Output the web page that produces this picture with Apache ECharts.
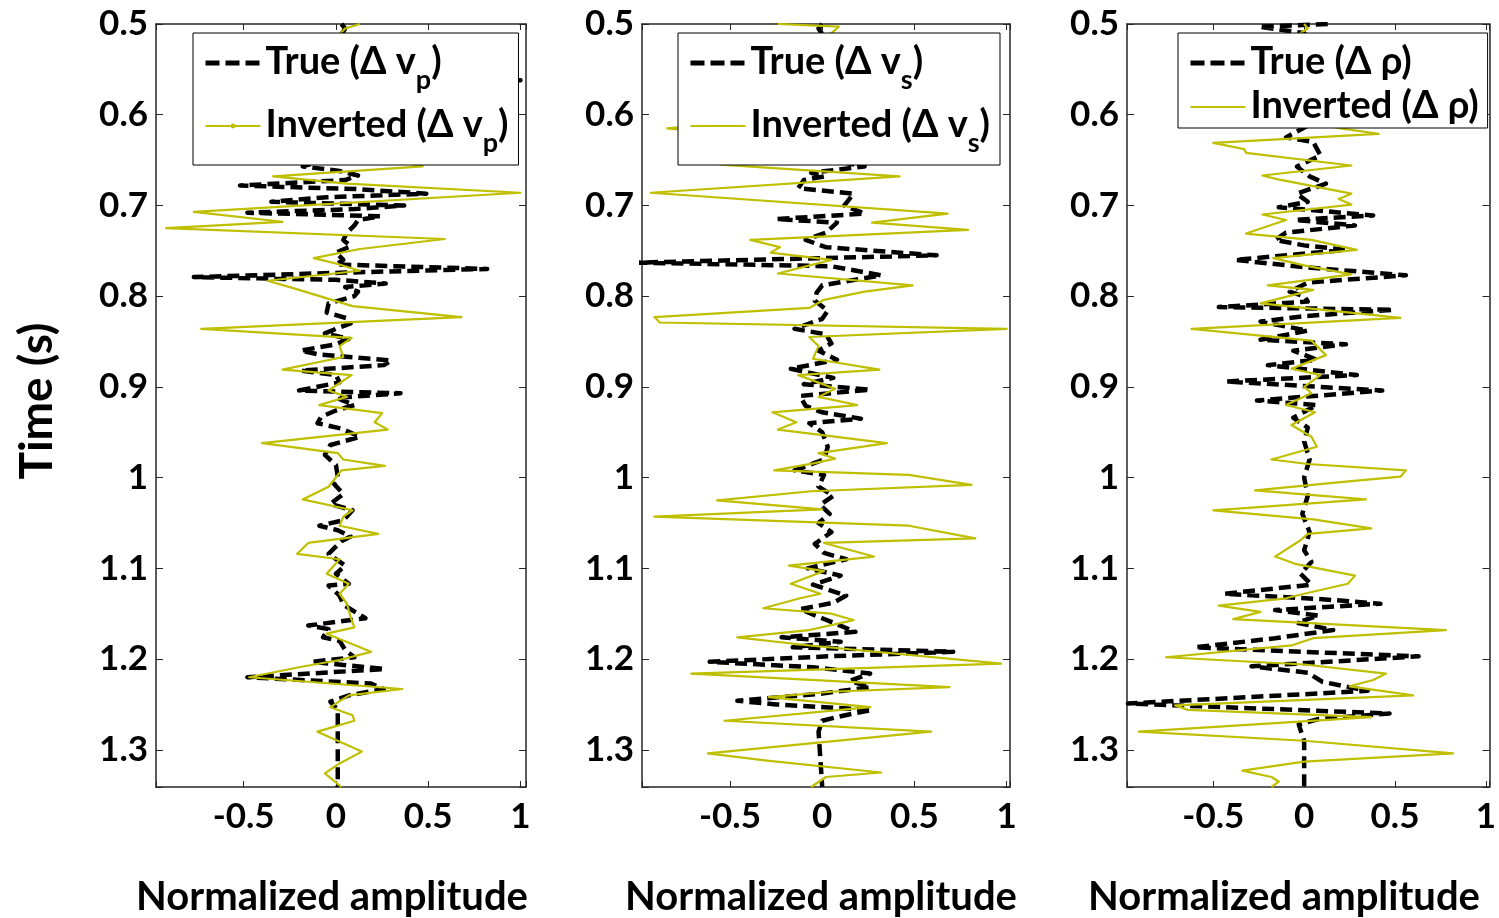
<!DOCTYPE html>
<html><head><meta charset="utf-8">
<script src="https://cdn.jsdelivr.net/npm/echarts@6/dist/echarts.min.js"></script>
<style>html,body{margin:0;padding:0;background:#fff}#c{width:1499px;height:918px}</style>
</head><body><div id="c"></div>
<script>
// ---- data: [amplitude, time] pairs ----
const xTicks = [-0.5, 0, 0.5, 1];
const timeTicks = [0.5, 0.6, 0.7, 0.8, 0.9, 1.0, 1.1, 1.2, 1.3];

const vpTrue = [[0.03,0.500],[0.05,0.505],[0.02,0.515],[-0.03,0.53],[0.04,0.545],[0.02,0.558],[1.0,0.562],[0.03,0.566],[-0.05,0.58],[0.06,0.60],[-0.04,0.62],[0.05,0.64],[-0.1,0.652],[-0.18,0.657],[0.02,0.662],[0.12,0.667],[0.05,0.672],[-0.52,0.678],[0.11,0.682],[0.49,0.687],[-0.05,0.691],[-0.35,0.696],[0.37,0.700],[0.1,0.704],[-0.48,0.708],[0.24,0.712],[0.12,0.716],[0.10,0.722],[0.06,0.73],[0.04,0.738],[0.08,0.745],[0.0,0.752],[0.04,0.760],[0.0,0.765],[0.82,0.770],[0.05,0.774],[-0.77,0.779],[0.0,0.782],[0.27,0.786],[0.05,0.790],[0.12,0.795],[0.1,0.800],[-0.04,0.808],[-0.05,0.818],[0.07,0.825],[0.08,0.830],[0.0,0.836],[-0.06,0.841],[0.07,0.847],[0.0,0.853],[-0.19,0.860],[-0.1,0.864],[0.30,0.871],[0.26,0.876],[-0.19,0.882],[0.0,0.887],[0.02,0.895],[-0.20,0.904],[0.35,0.907],[0.0,0.912],[0.10,0.920],[0.0,0.926],[-0.08,0.933],[-0.1,0.940],[0.03,0.946],[0.13,0.955],[-0.03,0.964],[-0.06,0.975],[0.0,0.986],[0.01,0.999],[-0.01,1.007],[0.04,1.018],[-0.03,1.029],[0.09,1.036],[0.04,1.047],[-0.09,1.053],[0.01,1.058],[0.08,1.065],[0.03,1.070],[-0.04,1.084],[0.05,1.097],[0.0,1.106],[0.07,1.117],[-0.04,1.119],[0.02,1.13],[0.04,1.14],[0.16,1.155],[-0.15,1.163],[-0.04,1.167],[-0.07,1.176],[0.02,1.18],[0.05,1.19],[0.10,1.198],[-0.13,1.203],[0.265,1.211],[-0.48,1.220],[0.19,1.227],[0.26,1.233],[0.07,1.240],[-0.03,1.247],[0.01,1.256],[0.01,1.341]];

const vpInv = [[0.13,0.500],[0.05,0.505],[0.0,0.515],[0.08,0.53],[-0.06,0.55],[0.1,0.57],[-0.1,0.59],[0.15,0.61],[-0.05,0.63],[0.2,0.645],[0.47,0.657],[-0.34,0.668],[0.06,0.676],[1.0,0.686],[-0.77,0.707],[-0.29,0.718],[-0.92,0.725],[0.59,0.737],[0.13,0.748],[-0.12,0.758],[0.0,0.764],[0.13,0.772],[-0.37,0.783],[-0.2,0.793],[0.09,0.811],[0.68,0.823],[-0.73,0.836],[0.085,0.846],[0.02,0.855],[0.04,0.867],[-0.29,0.881],[0.085,0.887],[-0.04,0.904],[0.06,0.911],[-0.09,0.920],[0.25,0.929],[0.21,0.939],[0.28,0.947],[-0.40,0.962],[0.01,0.973],[0.04,0.980],[0.265,0.987],[0.03,0.992],[-0.04,1.010],[-0.18,1.024],[0.09,1.036],[0.04,1.043],[0.02,1.053],[0.23,1.062],[-0.15,1.072],[-0.21,1.084],[0.02,1.09],[-0.05,1.106],[0.07,1.117],[0.02,1.128],[0.06,1.139],[0.08,1.154],[0.1,1.165],[-0.05,1.172],[0.19,1.192],[0.02,1.201],[-0.2,1.209],[-0.47,1.220],[0.36,1.233],[0.07,1.240],[-0.03,1.253],[0.09,1.262],[0.1,1.268],[-0.1,1.280],[0.14,1.302],[0.02,1.315],[-0.06,1.326],[0.03,1.341]];

const vsTrue = [[0.0,0.500],[-0.02,0.505],[0.03,0.52],[-0.02,0.54],[0.04,0.56],[-0.03,0.58],[0.02,0.60],[0.05,0.62],[-0.04,0.64],[0.1,0.652],[0.23,0.657],[-0.06,0.664],[0.01,0.668],[-0.1,0.672],[-0.13,0.681],[0.17,0.687],[0.12,0.700],[0.23,0.709],[-0.25,0.715],[0.08,0.719],[0.02,0.730],[-0.09,0.738],[0.02,0.746],[0.62,0.755],[-1.0,0.763],[0.05,0.767],[0.32,0.777],[0.0,0.788],[-0.03,0.796],[-0.04,0.805],[0.03,0.816],[0.0,0.825],[-0.15,0.836],[0.02,0.842],[0.05,0.852],[-0.02,0.860],[0.08,0.870],[-0.17,0.880],[0.06,0.890],[-0.1,0.897],[0.26,0.903],[-0.12,0.910],[-0.09,0.921],[0.0,0.928],[0.21,0.935],[-0.07,0.940],[0.0,0.950],[0.03,0.966],[0.01,0.980],[-0.15,0.992],[0.01,0.997],[-0.02,1.01],[0.06,1.02],[-0.01,1.03],[0.04,1.04],[-0.02,1.05],[0.05,1.06],[-0.04,1.073],[0.01,1.083],[0.13,1.09],[-0.08,1.1],[0.1,1.108],[-0.05,1.118],[0.13,1.13],[0.06,1.138],[-0.12,1.145],[0.0,1.155],[0.18,1.170],[-0.22,1.176],[0.1,1.181],[-0.16,1.187],[0.71,1.192],[0.03,1.197],[-0.61,1.203],[-0.05,1.209],[0.26,1.216],[0.15,1.224],[0.26,1.231],[0.0,1.238],[-0.46,1.246],[-0.25,1.250],[0.27,1.256],[0.1,1.263],[0.0,1.268],[-0.02,1.28],[0.0,1.341]];

const vsInv = [[-0.24,0.500],[0.09,0.503],[0.05,0.51],[-0.1,0.53],[0.15,0.55],[-0.2,0.57],[0.1,0.59],[-0.3,0.605],[-0.84,0.615],[-0.3,0.625],[0.1,0.64],[-0.55,0.655],[0.42,0.668],[-0.93,0.686],[0.68,0.709],[0.27,0.719],[0.79,0.727],[-0.39,0.738],[-0.23,0.746],[-0.28,0.752],[0.05,0.760],[-0.24,0.775],[0.49,0.788],[0.23,0.795],[0.01,0.804],[-0.07,0.813],[-0.91,0.823],[-0.88,0.829],[1.0,0.836],[-0.07,0.845],[-0.02,0.855],[-0.05,0.869],[0.31,0.881],[-0.13,0.887],[0.07,0.902],[-0.02,0.911],[0.19,0.920],[-0.27,0.928],[-0.14,0.939],[-0.24,0.947],[0.35,0.962],[-0.02,0.973],[0.07,0.979],[-0.04,0.984],[-0.26,0.992],[0.47,0.997],[0.81,1.008],[-0.06,1.015],[-0.57,1.025],[0.0,1.035],[-0.91,1.043],[0.47,1.053],[0.83,1.067],[0.01,1.072],[0.28,1.087],[-0.18,1.097],[0.01,1.103],[-0.17,1.117],[-0.01,1.128],[-0.12,1.133],[-0.32,1.144],[0.05,1.150],[0.17,1.157],[-0.07,1.168],[-0.46,1.176],[-0.07,1.185],[0.97,1.205],[-0.71,1.216],[0.69,1.231],[0.05,1.236],[-0.29,1.242],[0.26,1.253],[-0.53,1.268],[0.59,1.280],[-0.62,1.304],[-0.3,1.312],[0.32,1.325],[0.02,1.330],[-0.06,1.341]];

const rhoTrue = [[0.13,0.500],[-0.25,0.503],[0.0,0.51],[0.05,0.53],[-0.05,0.55],[0.08,0.57],[-0.06,0.59],[0.04,0.61],[-0.1,0.625],[0.05,0.63],[0.09,0.645],[-0.04,0.657],[0.03,0.668],[0.12,0.676],[-0.04,0.687],[0.02,0.696],[-0.14,0.702],[0.38,0.711],[-0.05,0.716],[0.28,0.722],[-0.1,0.73],[-0.16,0.738],[0.0,0.744],[0.23,0.749],[-0.38,0.760],[0.0,0.768],[0.56,0.777],[0.02,0.785],[-0.08,0.795],[0.0,0.80],[0.02,0.806],[-0.47,0.812],[0.49,0.815],[0.0,0.822],[-0.24,0.828],[0.02,0.838],[-0.24,0.848],[0.23,0.853],[-0.06,0.860],[0.07,0.870],[-0.2,0.876],[0.29,0.887],[-0.43,0.894],[0.43,0.904],[-0.26,0.915],[0.07,0.920],[-0.06,0.934],[0.02,0.945],[0.0,0.96],[0.03,0.98],[0.0,1.0],[0.02,1.02],[-0.01,1.04],[0.03,1.06],[0.0,1.08],[0.04,1.093],[-0.02,1.106],[0.04,1.118],[-0.44,1.128],[0.1,1.134],[0.42,1.139],[-0.16,1.146],[0.08,1.152],[-0.04,1.16],[0.16,1.168],[-0.16,1.177],[-0.60,1.187],[0.0,1.192],[0.63,1.197],[-0.29,1.208],[0.02,1.215],[0.1,1.225],[0.35,1.235],[-0.97,1.249],[0.47,1.260],[0.08,1.266],[-0.03,1.272],[0.0,1.29],[0.0,1.341]];

const rhoInv = [[0.0,0.500],[0.02,0.505],[-0.1,0.52],[0.15,0.54],[-0.1,0.56],[0.1,0.58],[-0.15,0.60],[0.2,0.615],[0.41,0.621],[-0.50,0.631],[-0.33,0.638],[-0.32,0.642],[0.26,0.656],[-0.23,0.667],[-0.15,0.671],[0.26,0.687],[0.19,0.693],[0.26,0.699],[-0.23,0.710],[-0.1,0.716],[-0.32,0.731],[0.04,0.738],[0.29,0.749],[-0.17,0.758],[0.0,0.766],[0.26,0.776],[-0.2,0.788],[0.05,0.793],[-0.24,0.808],[0.53,0.824],[-0.62,0.836],[0.04,0.849],[0.12,0.865],[-0.07,0.880],[0.09,0.887],[0.0,0.9],[0.04,0.907],[-0.1,0.920],[0.06,0.928],[-0.07,0.942],[0.04,0.955],[0.07,0.966],[-0.18,0.980],[0.02,0.985],[0.56,0.992],[0.53,0.999],[0.2,1.005],[-0.27,1.014],[0.34,1.024],[-0.50,1.036],[0.05,1.046],[0.37,1.056],[0.02,1.062],[-0.02,1.069],[-0.16,1.087],[-0.05,1.095],[0.28,1.108],[0.24,1.117],[0.0,1.128],[-0.1,1.133],[-0.47,1.141],[-0.24,1.148],[-0.39,1.156],[0.78,1.168],[0.05,1.177],[-0.07,1.185],[-0.76,1.198],[0.0,1.206],[0.45,1.216],[0.38,1.223],[0.25,1.230],[0.60,1.240],[-0.71,1.251],[-0.64,1.256],[0.37,1.264],[-0.91,1.280],[0.0,1.290],[0.82,1.304],[0.0,1.313],[-0.34,1.323],[-0.18,1.330],[-0.14,1.335],[-0.18,1.341]];

const trueNames = ['True (Δ v_p)', 'True (Δ v_s)', 'True (Δ ρ)'];
const invNames = ['Inverted (Δ v_p)', 'Inverted (Δ v_s)', 'Inverted (Δ ρ)'];
const xTitle = 'Normalized amplitude';
const yTitle = 'Time (s)';

// ---- layout ----
const F = 'Lato';
const AX = '#262626';
const YEL = '#bfbf00';
const panels = [
  {left:156, width:370, xmin:-0.975, xmax:1.03, tData:vpTrue, iData:vpInv, dot:true, sub:true, leg:{left:193, top:33}, titleX:332},
  {left:642, width:368, xmin:-0.977, xmax:1.018, tData:vsTrue, iData:vsInv, dot:false, sub:true, leg:{left:678, top:33}, titleX:821},
  {left:1127, width:368, xmin:-0.975, xmax:1.02, tData:rhoTrue, iData:rhoInv, dot:false, sub:false, leg:{left:1178, top:33}, titleX:1284}
];

const near = (arr, v) => arr.some(t => Math.abs(t - v) < 1e-6);
const fmtLegend = name => {
  const m = name.match(/^(.*)_(.)(\))$/);
  if (m) return '{a|' + m[1] + '}{s|' + m[2] + '}{a|' + m[3] + '}';
  return '{a|' + name + '}';
};

const option = {animation:false, backgroundColor:'#fff', grid:[], xAxis:[], yAxis:[], series:[], legend:[], graphic:[]};

panels.forEach((p, i) => {
  option.grid.push({left:p.left, top:24, width:p.width, height:763, containLabel:false});
  const baseX = {gridIndex:i, type:'value', min:p.xmin, max:p.xmax, minInterval:0.5, maxInterval:0.5,
    axisLine:{show:true, onZero:false, lineStyle:{color:AX, width:1.5}},
    axisTick:{show:true, inside:true, length:6, lineStyle:{color:AX, width:1}},
    splitLine:{show:false}};
  option.xAxis.push(Object.assign({}, baseX, {position:'bottom',
    axisLabel:{show:true, margin:12, color:'#000', fontFamily:F, fontWeight:'bold', fontSize:35,
      formatter: v => near(xTicks, v) ? String(Math.round(v*10)/10) : ''}}));
  option.xAxis.push(Object.assign({}, baseX, {position:'top', axisLabel:{show:false}}));
  const baseY = {gridIndex:i, type:'value', inverse:true, min:0.5, max:1.341, interval:0.1,
    axisLine:{show:true, onZero:false, lineStyle:{color:AX, width:1.5}},
    axisTick:{show:true, inside:true, length:7, lineStyle:{color:AX, width:1}},
    splitLine:{show:false}};
  option.yAxis.push(Object.assign({}, baseY, {position:'left',
    axisLabel:{show:true, margin:8, color:'#000', fontFamily:F, fontWeight:'bold', fontSize:35,
      formatter: v => near(timeTicks, v) ? String(Math.round(v*10)/10) : ''}}));
  option.yAxis.push(Object.assign({}, baseY, {position:'right', axisLabel:{show:false}}));

  option.series.push({type:'line', name:trueNames[i], xAxisIndex:2*i, yAxisIndex:2*i, data:p.tData,
    symbol:'none', silent:true, z:2,
    itemStyle:{color:'#000'},
    lineStyle:{color:'#000', width:4.5, type:[12,6], cap:'butt', join:'round'}});
  option.series.push({type:'line', name:invNames[i], xAxisIndex:2*i, yAxisIndex:2*i, data:p.iData,
    symbol: p.dot ? 'circle' : 'none', symbolSize:5, showSymbol:false, silent:true, z:3,
    itemStyle:{color:YEL},
    lineStyle:{color:YEL, width:2.2, join:'round'}});

  const rich = p.sub ? {
      a:{color:'#000', fontFamily:F, fontWeight:'bold', fontSize:38, lineHeight:40, verticalAlign:'top'},
      s:{color:'#000', fontFamily:F, fontWeight:'bold', fontSize:27, lineHeight:26, verticalAlign:'top', padding:[24,0,0,0]}
    } : {
      a:{color:'#000', fontFamily:F, fontWeight:'bold', fontSize:38, lineHeight:40, verticalAlign:'top'}
    };
  option.legend.push({orient:'vertical', left:p.leg.left, top:p.leg.top,
    padding: p.sub ? [10,10,8,10] : [10,9,3,10],
    itemGap: p.sub ? 12 : 6, itemWidth:55, itemHeight:6, itemTextGap:6, selectedMode:false,
    backgroundColor:'#fff', borderColor:'#000', borderWidth:1, borderRadius:0,
    data:[{name:trueNames[i], itemStyle:{opacity:0}, lineStyle:{color:'#000', width:5, type:[14,6], cap:'butt'}},
          {name:invNames[i], itemStyle: p.dot ? {color:YEL} : {opacity:0}, lineStyle:{color:YEL, width:2.2}}],
    formatter: fmtLegend,
    textStyle:{color:'#000', fontFamily:F, fontWeight:'bold', fontSize:38, rich:rich}});

  option.graphic.push({type:'text', x:p.titleX, y:897, silent:true,
    style:{text:xTitle, align:'center', verticalAlign:'middle', fill:'#000',
      font:'bold 40px ' + F}});
});

option.graphic.push({type:'text', x:37, y:401, rotation:Math.PI/2, silent:true,
  style:{text:yTitle, align:'center', verticalAlign:'middle', fill:'#000', font:'bold 46px ' + F}});

const chart = echarts.init(document.getElementById('c'), null, {renderer:'canvas'});
chart.setOption(option);
</script>
</body></html>
